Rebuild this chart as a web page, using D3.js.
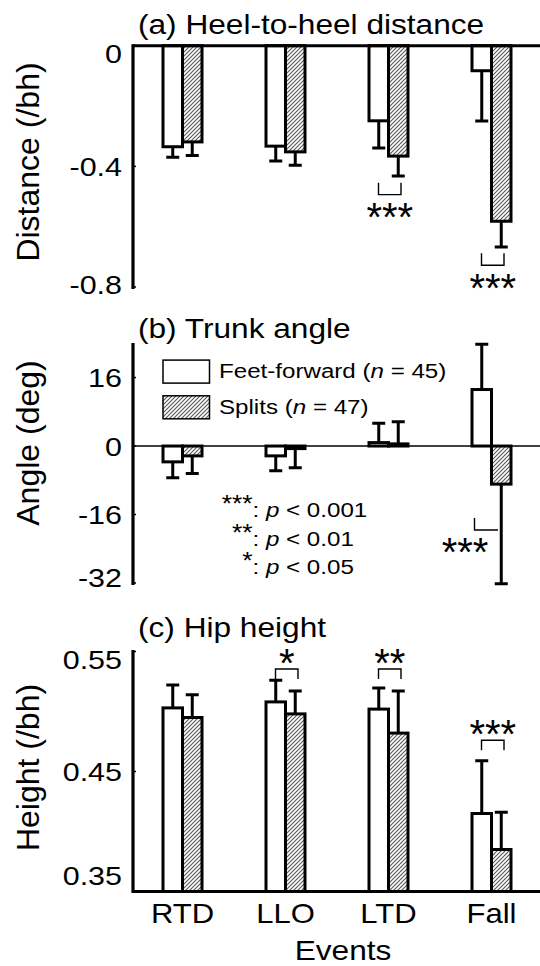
<!DOCTYPE html>
<html lang="en">
<head>
<meta charset="UTF-8" />
<title>Heel distance, trunk angle, hip height</title>
<style>
  body { margin: 0; background: #fff; }
  svg { display: block; }
  text { font-family: "Liberation Sans", Arial, sans-serif; fill: #000; }
</style>
</head>
<body>
<div id="chart"></div>
<script src="https://d3js.org/d3.v7.min.js"></script>
<script>
// data
const events = ['RTD', 'LLO', 'LTD', 'Fall'];
const groups = ['Feet-forward', 'Splits'];
const groupN = [45, 47];

const heelFF = [-0.335, -0.333, -0.249, -0.083];
const heelFFsd = [0.035, 0.049, 0.090, 0.167];
const heelSP = [-0.319, -0.352, -0.366, -0.582];
const heelSPsd = [0.045, 0.044, 0.066, 0.085];

const trunkFF = [-3.7, -2.3, 0.8, 13.2];
const trunkFFsd = [3.7, 3.5, 4.5, 10.6];
const trunkSP = [-2.3, -0.6, 0.5, -8.9];
const trunkSPsd = [4.1, 4.5, 5.2, 23.3];

const hipFF = [0.503, 0.508, 0.502, 0.415];
const hipFFsd = [0.019, 0.018, 0.0175, 0.044];
const hipSP = [0.495, 0.498, 0.482, 0.385];
const hipSPsd = [0.019, 0.019, 0.035, 0.031];

const heelTicks = [0, -0.4, -0.8];
const trunkTicks = [16, 0, -16, -32];
const hipTicks = [0.55, 0.45, 0.35];

const heelSig = [{ event: 'LTD', stars: '***', y: -0.454 }, { event: 'Fall', stars: '***', y: -0.688 }];
const trunkSig = [{ event: 'Fall', stars: '***', y: -16.8 }];
const hipSig = [{ event: 'LLO', stars: '*', y: 0.5354 }, { event: 'LTD', stars: '**', y: 0.5354 }, { event: 'Fall', stars: '***', y: 0.476 }];

const pLevels = [['***', '0.001'], ['**', '0.01'], ['*', '0.05']];

const SX = 1.15; // text in the figure is a bit wider than the font
const AXIS_X = 133;

const svg = d3.select('#chart').append('svg')
    .attr('width', 540)
    .attr('height', 966);

const defs = svg.append('defs');
const pat = defs.append('pattern')
    .attr('id', 'hatch')
    .attr('patternUnits', 'userSpaceOnUse')
    .attr('width', 4)
    .attr('height', 4);
pat.append('rect').attr('width', 4).attr('height', 4).attr('fill', '#fff');
pat.append('path')
    .attr('d', 'M-1,1 L1,-1 M0,4 L4,0 M3,5 L5,3')
    .attr('stroke', '#555')
    .attr('stroke-width', 1.1);

const x = d3.scaleBand().domain(events).range([131, 543]);
const inner = d3.scaleBand().domain(groups).range([-19.5, 19.5]);

function stext(g, px, py, size, str, anchor) {
    return g.append('text')
        .attr('transform', `translate(${px},${py}) scale(${SX},1)`)
        .attr('font-size', size)
        .attr('text-anchor', anchor || 'start')
        .text(str);
}

function drawPanel(cfg) {
    const g = svg.append('g');
    const y = d3.scaleLinear().domain(cfg.domain).range(cfg.range);
    const base = cfg.base;

    const rows = [];
    events.forEach((e, i) => {
        rows.push({ e, grp: groups[0], v: cfg.ff[i], sd: cfg.ffsd[i] });
        rows.push({ e, grp: groups[1], v: cfg.sp[i], sd: cfg.spsd[i] });
    });

    // bars
    g.selectAll('rect.bar').data(rows).enter().append('rect')
        .attr('class', 'bar')
        .attr('x', d => x(d.e) + x.bandwidth() / 2 + inner(d.grp))
        .attr('width', inner.bandwidth())
        .attr('y', d => Math.min(y(d.v), y(base)))
        .attr('height', d => Math.abs(y(d.v) - y(base)))
        .attr('fill', d => d.grp === groups[0] ? '#fff' : 'url(#hatch)')
        .attr('stroke', '#000')
        .attr('stroke-width', 3);

    // one-sided error bars, away from the base line
    const errEnd = d => d.v + (d.v >= base ? d.sd : -d.sd);
    const cx = d => x(d.e) + x.bandwidth() / 2 + inner(d.grp) + inner.bandwidth() / 2;
    g.selectAll('path.err').data(rows).enter().append('path')
        .attr('class', 'err')
        .attr('d', d => `M${cx(d)},${y(d.v)} V${y(errEnd(d))} M${cx(d) - 6.5},${y(errEnd(d))} H${cx(d) + 6.5}`)
        .attr('fill', 'none')
        .attr('stroke', '#000')
        .attr('stroke-width', 3);

    // axis lines
    g.append('line')
        .attr('x1', AXIS_X).attr('x2', 540)
        .attr('y1', y(base)).attr('y2', y(base))
        .attr('stroke', '#000')
        .attr('stroke-width', cfg.baseWidth);
    g.append('line')
        .attr('x1', AXIS_X).attr('x2', AXIS_X)
        .attr('y1', cfg.axisTop).attr('y2', cfg.axisBottom)
        .attr('stroke', '#000')
        .attr('stroke-width', 3.2);
    g.selectAll('line.tick').data(cfg.ticks).enter().append('line')
        .attr('x1', AXIS_X).attr('x2', AXIS_X + 3)
        .attr('y1', d => y(d)).attr('y2', d => y(d))
        .attr('stroke', '#000')
        .attr('stroke-width', 1.5);

    // tick labels
    cfg.ticks.forEach(t => {
        const nudge = (cfg.nudge && cfg.nudge[t]) || 0;
        stext(g, AXIS_X - 11, y(t) + nudge, 26.5, String(t), 'end').attr('dy', '0.36em');
    });

    // title and y label
    stext(g, 138, cfg.titleY, 27.5, cfg.title);
    g.append('text')
        .attr('transform', `translate(39,${cfg.labelY}) rotate(-90)`)
        .attr('font-size', 32)
        .attr('text-anchor', 'middle')
        .text(cfg.ylabel);

    // significance brackets
    cfg.sig.forEach(s => {
        const c = x(s.event) + x.bandwidth() / 2;
        const y0 = y(s.y);
        let xl = c - 10, xr = c + 12.5, path, starX, starY;
        if (cfg.sigMode === 'below') {
            path = `M${xl},${y0} V${y0 + 12} H${xr} V${y0}`;
            starX = (xl + xr) / 2;
            starY = y0 + 12 + 36.5;
        } else if (cfg.sigMode === 'side') {
            xl = c - 17; xr = c + 6.5;
            path = `M${xl},${y0} V${y0 + 12} H${xr}`;
            starX = c - 26.5;
            starY = y0 + 12 + 36;
        } else {
            path = `M${xl},${y0 + 10} V${y0} H${xr} V${y0 + 10}`;
            starX = (xl + xr) / 2;
            starY = y0 + 8;
        }
        g.append('path')
            .attr('d', path)
            .attr('fill', 'none')
            .attr('stroke', '#000')
            .attr('stroke-width', 1.4);
        g.append('text')
            .attr('x', starX).attr('y', starY)
            .attr('font-size', 40)
            .attr('text-anchor', 'middle')
            .text(s.stars);
    });
    return { g, y };
}

// (a) heel-to-heel distance
drawPanel({
    domain: [-0.8, 0], range: [287, 45.7], base: 0, baseWidth: 3,
    axisTop: 44.2, axisBottom: 289,
    ff: heelFF, ffsd: heelFFsd, sp: heelSP, spsd: heelSPsd,
    ticks: heelTicks, nudge: { '0': 7.5, '-0.8': -3 },
    title: '(a) Heel-to-heel distance', titleY: 34.3,
    ylabel: 'Distance (/bh)', labelY: 162,
    sig: heelSig, sigMode: 'below'
});

// (b) trunk angle
const pb = drawPanel({
    domain: [-32, 24], range: [583, 343.3], base: 0, baseWidth: 1.5,
    axisTop: 343, axisBottom: 585,
    ff: trunkFF, ffsd: trunkFFsd, sp: trunkSP, spsd: trunkSPsd,
    ticks: trunkTicks, nudge: { '-32': -5.5 },
    title: '(b) Trunk angle', titleY: 338.3,
    ylabel: 'Angle (deg)', labelY: 443,
    sig: trunkSig, sigMode: 'side'
});

// legend for the two groups
const leg = pb.g.append('g');
groups.forEach((grp, i) => {
    const ly = 359.3 + i * 35.7;
    leg.append('rect')
        .attr('x', 163).attr('y', ly + 0.8)
        .attr('width', 46.5).attr('height', 23)
        .attr('fill', i === 0 ? '#fff' : 'url(#hatch)')
        .attr('stroke', '#000')
        .attr('stroke-width', 1.5);
    const t = stext(leg, 219, ly + 19, 21, null);
    t.append('tspan').text(grp + ' (');
    t.append('tspan').attr('font-style', 'italic').text('n');
    t.append('tspan').text(' = ' + groupN[i] + ')');
});

// p-value key
pLevels.forEach((p, i) => {
    const by = 517 + i * 28.5;
    stext(pb.g, 252.5, by - 5, 23, p[0], 'end');
    const t = stext(pb.g, 252.5, by, 21, null);
    t.append('tspan').text(': ');
    t.append('tspan').attr('font-style', 'italic').text('p');
    t.append('tspan').text(' < ' + p[1]);
});

// (c) hip height
drawPanel({
    domain: [0.35, 0.55], range: [891.5, 651.5], base: 0.35, baseWidth: 3.2,
    axisTop: 650, axisBottom: 893,
    ff: hipFF, ffsd: hipFFsd, sp: hipSP, spsd: hipSPsd,
    ticks: hipTicks, nudge: { '0.55': 7.5, '0.35': -16.5 },
    title: '(c) Hip height', titleY: 636.7,
    ylabel: 'Height (/bh)', labelY: 767.5,
    sig: hipSig, sigMode: 'above'
});

// event labels under panel (c)
events.forEach(e => {
    stext(svg, x(e) + x.bandwidth() / 2, 923.3, 27, e, 'middle');
});
stext(svg, 343, 960, 27.5, 'Events', 'middle');
</script>
</body>
</html>
